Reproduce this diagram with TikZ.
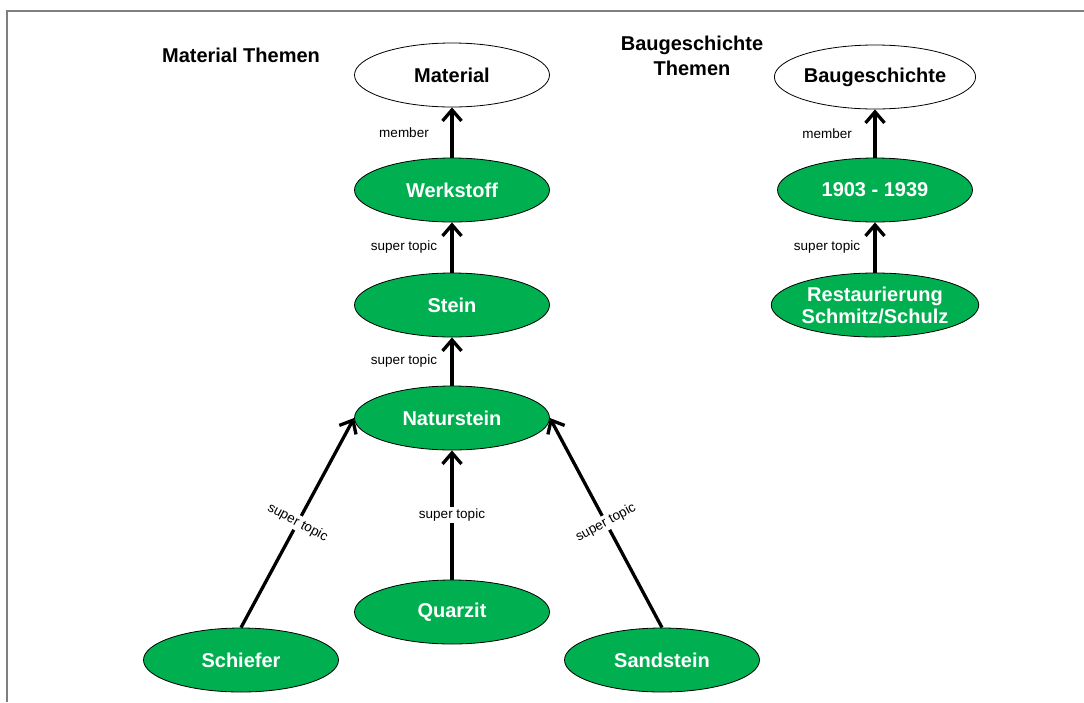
\documentclass[tikz,border=0pt]{standalone}
\usepackage{fontspec}
\setmainfont{Liberation Sans}
\usetikzlibrary{shapes.geometric,arrows.meta}
\definecolor{topicgreen}{HTML}{00B050}
\definecolor{framegray}{HTML}{7F7F7F}
\begin{document}
\begin{tikzpicture}[x=1pt,y=-1pt,
  topic/.style={ellipse, draw=black, line width=0.8pt, fill=topicgreen, text=white,
    font=\fontsize{20}{22}\selectfont\bfseries, minimum width=195pt, minimum height=64pt,
    inner sep=0pt, align=center},
  root/.style={topic, fill=white, text=black},
  heading/.style={font=\fontsize{20}{25}\selectfont\bfseries, align=center},
  rel/.style={line width=3.3pt, -{Straight Barb[length=11pt,width=19pt]}},
  lbl/.style={font=\fontsize{13.5}{15}\selectfont, inner sep=1.5pt},
  sidelbl/.style={lbl, midway, xshift=-48pt},
  onlbl/.style={lbl, midway, fill=white},
]
\useasboundingbox (0,0) rectangle (1084,702);
% page frame (top and left edges)
\draw[framegray, line width=1.5pt] (7,702) -- (7,11) -- (1084,11);

% headings
\node[heading] (hmat) at (241,55) {Material Themen};
\node[heading] (hbau) at (692,56) {Baugeschichte\\Themen};

% material topics
\node[root]  (material)   at (452,75)  {Material};
\node[topic] (werkstoff)  at (452,190) {Werkstoff};
\node[topic] (stein)      at (452,305) {Stein};
\node[topic] (naturstein) at (452,418) {Naturstein};
\node[topic] (quarzit)    at (452,612) {Quarzit};
\node[topic] (schiefer)   at (241,660) {Schiefer};
\node[topic] (sandstein)  at (662,660) {Sandstein};

% building history topics
\node[root]  (bau)   at (875,77)  {Baugeschichte};
\node[topic] (epoch) at (875,190) {1903 - 1939};
\node[topic] (rest)  at (875,305) {Restaurierung\\Schmitz/Schulz};

% relations
\draw[rel] (werkstoff) -- (material) node[sidelbl] {member};
\draw[rel] (stein) -- (werkstoff) node[sidelbl] {super topic};
\draw[rel] (naturstein) -- (stein) node[sidelbl] {super topic};
\draw[rel] (quarzit) -- (naturstein) node[onlbl] {super topic};
\draw[rel] (schiefer.north) -- (naturstein.west) node[onlbl, rotate=-28.3] {super topic};
\draw[rel] (sandstein.north) -- (naturstein.east) node[onlbl, rotate=28.3] {super topic};

\draw[rel] (epoch) -- (bau) node[sidelbl] {member};
\draw[rel] (rest) -- (epoch) node[sidelbl] {super topic};
\end{tikzpicture}
\end{document}
